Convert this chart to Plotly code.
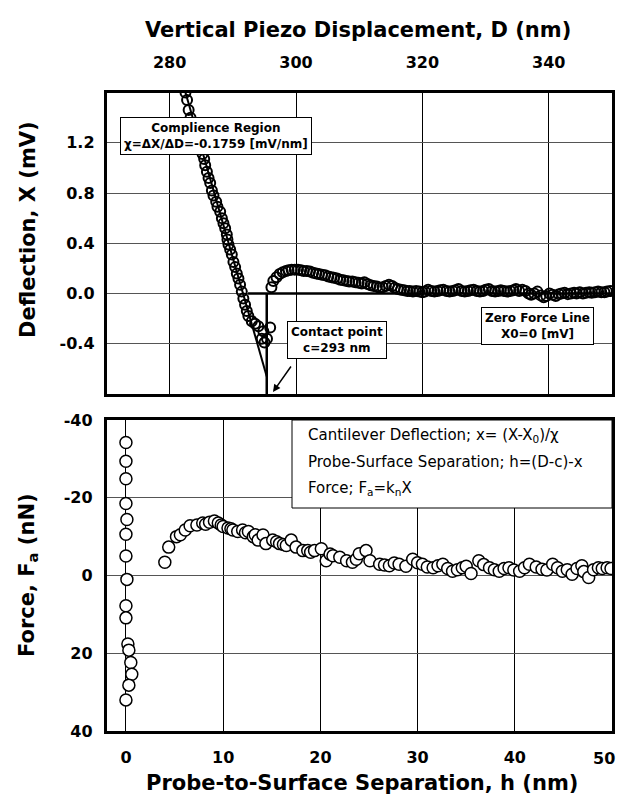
import plotly.graph_objects as go

# ---------------- data ----------------
# Top panel: deflection X (mV) vs vertical piezo displacement D (nm)
D_compliance = [282.5, 282.75, 283.0, 283.3, 283.6, 283.9, 284.3, 284.6, 284.9, 285.2,
                285.46, 285.62, 285.89, 286.15, 286.41, 286.68, 286.93, 287.36, 287.56, 287.99,
                288.26, 288.51, 288.78, 289.04, 289.14, 289.30, 289.57, 289.83, 290.09, 290.36,
                290.62, 290.88, 291.14, 291.41, 291.66, 291.93, 292.20, 292.45, 292.99, 293.51,
                294.03, 294.57, 294.82, 295.0, 295.4, 295.9]
X_compliance = [1.60, 1.54, 1.46, 1.40, 1.34, 1.29, 1.24, 1.20, 1.16, 1.11,
                1.07, 1.02, 0.97, 0.92, 0.88, 0.82, 0.78, 0.73, 0.69, 0.65,
                0.60, 0.56, 0.52, 0.47, 0.43, 0.39, 0.35, 0.31, 0.25, 0.21,
                0.16, 0.12, 0.07, 0.015, -0.04, -0.09, -0.14, -0.18, -0.22, -0.24,
                -0.26, -0.36, -0.30, -0.39, -0.36, -0.27]

D_noncontact = [296.1, 296.4, 296.9, 297.4, 297.9, 298.4, 298.8, 299.3, 299.8, 300.3,
                300.8, 301.2, 301.7, 302.2, 302.7, 303.2, 303.6, 304.1, 304.6, 305.1,
                305.6, 306.0, 306.5, 307.0, 307.5, 308.0, 308.4, 308.9, 309.4, 309.9,
                310.4, 310.8, 311.3, 311.8, 312.3, 312.8, 313.2, 313.7, 314.2, 314.7,
                315.2, 315.6, 316.1, 316.6, 317.1, 317.6, 318.0, 318.5, 319.0, 319.5,
                320.0, 320.4, 320.9, 321.4, 321.9, 322.4, 322.8, 323.3, 323.8, 324.3,
                324.8, 325.2, 325.7, 326.2, 326.7, 327.2, 327.6, 328.1, 328.6, 329.1,
                329.6, 330.0, 330.5, 331.0, 331.5, 332.0, 332.4, 332.9, 333.4, 333.9,
                334.4, 334.8, 335.3, 335.8, 336.3, 336.8, 337.2, 337.7, 338.2, 338.7,
                339.2, 339.6, 340.1, 340.6, 341.1, 341.6, 342.0, 342.5, 343.0, 343.5,
                344.0, 344.4, 344.9, 345.4, 345.9, 346.4, 346.8, 347.3, 347.8, 348.3,
                348.8, 349.2, 349.7]
X_noncontact = [0.05, 0.10, 0.13, 0.155, 0.17, 0.18, 0.185, 0.19, 0.19, 0.19,
                0.185, 0.18, 0.18, 0.175, 0.165, 0.16, 0.155, 0.15, 0.145, 0.135,
                0.13, 0.125, 0.12, 0.11, 0.105, 0.10, 0.095, 0.095, 0.09, 0.085,
                0.08, 0.09, 0.075, 0.065, 0.06, 0.055, 0.045, 0.05, 0.06, 0.07,
                0.06, 0.045, 0.035, 0.03, 0.025, 0.02, 0.02, 0.015, 0.02, 0.015,
                0.01, 0.015, 0.03, 0.02, 0.015, 0.02, 0.025, 0.03, 0.02, 0.015,
                0.02, 0.025, 0.035, 0.02, 0.015, 0.02, 0.025, 0.03, 0.02, 0.015,
                0.02, 0.03, 0.035, 0.02, 0.015, 0.02, 0.025, 0.02, 0.015, 0.02,
                0.025, 0.035, 0.02, 0.03, 0.02, 0.0, -0.01, 0.0, 0.015, -0.015,
                -0.03, -0.02, 0.0, -0.01, -0.02, -0.005, 0.0, 0.005, -0.005, 0.0,
                0.005, 0.0, 0.01, 0.0, 0.005, 0.01, 0.005, 0.01, 0.015, 0.01,
                0.01, 0.015, 0.02]

# Guide lines of the top panel
fit_D = [282.5, 295.36]          # compliance fit, slope chi = -0.1759 mV/nm
fit_X = [1.60, -0.66]
zero_D = [292.4, 350.0]          # zero force line X0 = 0
zero_X = [0.0, 0.0]
contact_D = [295.36, 295.36]     # contact line
contact_X = [0.0, -0.8]

# Bottom panel: force Fa (nN) vs probe-to-surface separation h (nm)
h_vals = [0.0, 0.0, 0.0, 0.0, 0.1, 0.0, 0.0, 0.1, 0.0, 0.0, 0.2, 0.3, 0.5, 0.6, 0.3, 0.0,
          4.0, 4.4, 5.2, 5.6, 6.1, 6.6, 7.3, 7.9, 8.2, 8.6, 9.1, 9.5, 9.8, 10.0,
          10.5, 10.8, 11.0, 11.5, 12.0, 12.3, 12.6, 13.1, 13.3, 13.6, 14.1, 14.4, 15.1, 15.5,
          15.8, 16.2, 16.5, 17.0, 17.5, 18.2, 18.7, 19.0, 19.4, 20.1, 20.6, 21.0, 21.3, 22.0,
          22.7, 23.3, 23.7, 24.0, 24.7, 25.1, 26.1, 26.6, 27.1, 27.6, 28.1, 28.8, 29.5, 30.0,
          30.5, 31.0, 31.6, 32.1, 32.6, 33.1, 33.6, 34.1, 34.6, 35.0, 35.5, 36.3, 36.8, 37.4,
          37.9, 38.4, 38.9, 39.4, 39.9, 40.5, 41.0, 41.5, 42.2, 42.8, 43.3, 43.9, 44.4, 44.9,
          45.4, 45.9, 46.4, 46.9, 47.1, 47.6, 48.1, 48.6, 49.0, 49.5, 49.9]
F_vals = [-34.2, -29.4, -24.9, -18.5, -14.4, -10.6, -5.0, 1.0, 7.8, 10.9, 17.6, 19.2, 22.4, 25.4, 28.2, 32.0,
          -3.4, -7.3, -10.0, -10.5, -11.7, -12.8, -13.0, -13.5, -13.2, -13.7, -14.0, -13.5, -13.0, -12.6,
          -12.2, -12.0, -11.7, -11.3, -11.7, -11.0, -11.3, -10.0, -10.5, -9.1, -10.4, -8.2, -9.1, -8.7,
          -8.2, -8.0, -7.7, -9.1, -7.3, -6.4, -6.4, -6.0, -6.4, -6.9, -3.8, -5.5, -5.1, -4.7,
          -3.8, -3.4, -4.2, -5.6, -6.4, -3.8, -2.9, -2.7, -2.5, -3.2, -2.9, -2.4, -4.2, -3.3,
          -2.9, -2.2, -2.0, -2.5, -2.9, -1.8, -1.1, -1.5, -2.0, -2.4, -0.5, -3.8, -2.8, -2.0,
          -1.5, -1.1, -1.8, -2.0, -1.4, -1.1, -2.0, -2.9, -2.2, -1.6, -1.4, -2.9, -2.0, -1.1,
          -1.5, -0.3, -1.8, -2.5, -1.0, 0.5, -1.5, -2.0, -1.8, -2.0, -1.8]

# Tick labels
top_x_ticks = [280, 300, 320, 340]
top_y_ticks = [-0.4, 0.0, 0.4, 0.8, 1.2]
top_y_text = ["-0.4", "0.0", "0.4", "0.8", "1.2"]
bot_x_ticks = [0, 10, 20, 30, 40, 50]
bot_x_text = ["0", "10", "20", "30", "40", ""]   # "50" sits at the frame edge, drawn below
bot_x_last = "50"
bot_y_ticks = [-40, -20, 0, 20, 40]
bot_y_text = ["-40", "-20", "0", "20", "40"]

# ---------------- layout helpers ----------------
# The page places the figure 8 px from the window's top-left corner.
OFF = 8
W, H = 625 - 2 * OFF, 805 - 2 * OFF
def px(x):
    return (x - OFF) / W
def py(y):
    return 1 - (y - OFF) / H

FONT = "DejaVu Sans"
tickfont = dict(family=FONT, size=16, color="black", weight="bold")

fig = go.Figure()

fig.add_trace(go.Scatter(x=D_compliance + D_noncontact, y=X_compliance + X_noncontact,
                         xaxis="x", yaxis="y", mode="markers",
                         marker=dict(symbol="circle-open", size=10, color="black",
                                     line=dict(width=2, color="black")),
                         showlegend=False))
fig.add_trace(go.Scatter(x=fit_D, y=fit_X, xaxis="x", yaxis="y", mode="lines",
                         line=dict(color="black", width=2), showlegend=False))
fig.add_trace(go.Scatter(x=zero_D, y=zero_X, xaxis="x", yaxis="y", mode="lines",
                         line=dict(color="black", width=2.5), showlegend=False))
fig.add_trace(go.Scatter(x=contact_D, y=contact_X, xaxis="x", yaxis="y", mode="lines",
                         line=dict(color="black", width=2.5), showlegend=False))

fig.add_trace(go.Scatter(x=h_vals, y=F_vals, xaxis="x2", yaxis="y2", mode="markers",
                         marker=dict(symbol="circle", size=12, color="white",
                                     line=dict(width=1.5, color="black")),
                         showlegend=False))

xdom = [px(106.5), px(612)]
axis_common = dict(showline=True, linecolor="black", linewidth=2.5, mirror=True,
                   showgrid=True, gridwidth=1, zeroline=False, ticks="",
                   tickfont=tickfont, automargin=False)

fig.update_layout(
    template="none",
    width=W, height=H,
    margin=dict(l=0, r=0, t=0, b=0, autoexpand=False),
    paper_bgcolor="white", plot_bgcolor="white",
    xaxis=dict(domain=xdom, anchor="y", side="top", range=[270, 350],
               tickvals=top_x_ticks, gridcolor="black", ticklabelstandoff=15,
               **axis_common),
    yaxis=dict(domain=[py(394), py(92.5)], anchor="x", range=[-0.8, 1.6],
               tickvals=top_y_ticks, ticktext=top_y_text, gridcolor="#555555",
               ticklabelstandoff=6, **axis_common),
    xaxis2=dict(domain=xdom, anchor="y2", range=[-2, 50], tickvals=bot_x_ticks,
                ticktext=bot_x_text, gridcolor="black", ticklabelstandoff=10,
                **axis_common),
    yaxis2=dict(domain=[py(731), py(420)], anchor="x2", range=[40, -40],
                tickvals=bot_y_ticks, ticktext=bot_y_text, gridcolor="#555555",
                ticklabelstandoff=8, **axis_common),
)

title_font = dict(family=FONT, size=21, color="black", weight="bold")
ann_font = dict(family=FONT, size=12, color="black", weight="bold")
leg_font = dict(family=FONT, size=15, color="black")

annotations = [
    dict(text="Vertical Piezo Displacement, D (nm)", x=px(358), y=py(30),
         font=title_font),
    dict(text="Deflection, X (mV)", x=px(28), y=py(230), textangle=-90,
         font=title_font),
    dict(text="Force, F<sub>a</sub> (nN)", x=px(28), y=py(575), textangle=-90,
         font=title_font),
    dict(text="Probe-to-Surface Separation, h (nm)", x=px(362), y=py(783),
         font=title_font),
    dict(text=bot_x_last, x=px(604), y=py(758), font=tickfont),
    dict(text="Complience Region<br>χ=ΔX/ΔD=-0.1759 [mV/nm]", x=px(216), y=py(136),
         font=ann_font, bgcolor="white", bordercolor="black", borderwidth=1, borderpad=3),
    dict(text="Contact point<br>c=293 nm", x=px(337.5), y=py(339.5),
         font=ann_font, bgcolor="white", bordercolor="black", borderwidth=1, borderpad=3),
    dict(text="Zero Force Line<br>X0=0 [mV]", x=px(537.5), y=py(325.5),
         font=ann_font, bgcolor="white", bordercolor="black", borderwidth=1, borderpad=3),
    dict(text="", x=px(273), y=py(392), ax=19, ay=-27, showarrow=True,
         arrowhead=2, arrowsize=1, arrowwidth=1.5, arrowcolor="black"),
    dict(text="Cantilever Deflection; x= (X-X<sub>0</sub>)/χ", x=px(306), y=py(435),
         xanchor="left", font=leg_font),
    dict(text="Probe-Surface Separation; h=(D-c)-x", x=px(306), y=py(461.5),
         xanchor="left", font=leg_font),
    dict(text="Force; F<sub>a</sub>=k<sub>n</sub>X", x=px(306), y=py(488),
         xanchor="left", font=leg_font),
]
for a in annotations:
    a.setdefault("xref", "paper")
    a.setdefault("yref", "paper")
    a.setdefault("showarrow", False)
    a.setdefault("xanchor", "center")
    a.setdefault("yanchor", "middle")
fig.update_layout(annotations=annotations)

fig.add_shape(type="rect", xref="paper", yref="paper",
              x0=px(292), x1=px(612), y0=py(508), y1=py(420),
              fillcolor="white", line=dict(color="black", width=1), layer="above")

fig.write_html("out.html")
